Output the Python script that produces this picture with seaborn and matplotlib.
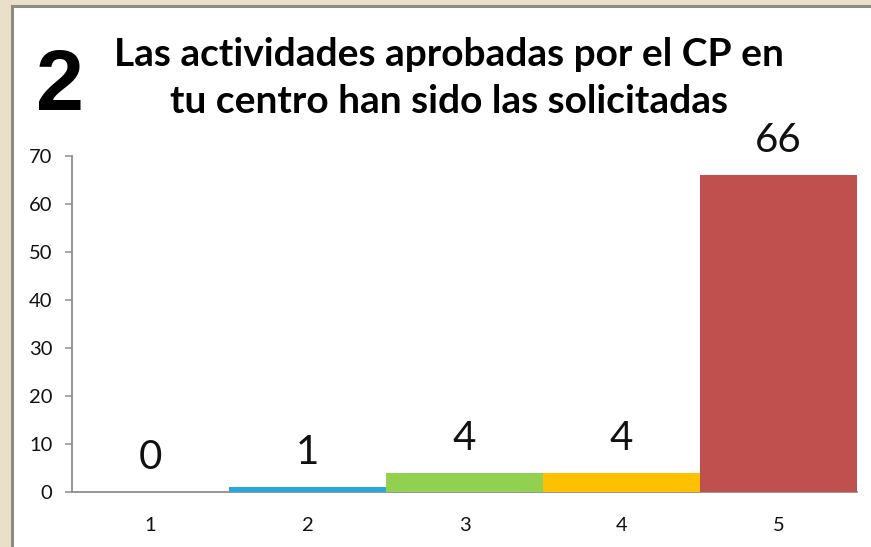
import matplotlib
matplotlib.use("Agg")
import matplotlib.pyplot as plt
from matplotlib.patches import Rectangle
import seaborn as sns
import pandas as pd

# Survey answers for question 2
categories = ["1", "2", "3", "4", "5"]
counts = [0, 1, 4, 4, 66]
bar_colors = ["#4F81BD", "#2AA8DE", "#92D050", "#FFC000", "#C0504D"]
y_ticks = [0, 10, 20, 30, 40, 50, 60, 70]

title_lines = ["Las actividades aprobadas por el CP en", "tu centro han sido las solicitadas"]
number_text = "2"

sns.set_theme(style="white")
plt.rcParams["font.family"] = ["Lato", "DejaVu Sans"]

W, H = 871, 547
fig = plt.figure(figsize=(W / 100, H / 100), dpi=100)
fig.patch.set_facecolor("#E8E0C8")

# white card with a grey frame, kept behind the axes
card = Rectangle((12 / W, -0.05), 1.1, (H - 6) / H + 0.05, transform=fig.transFigure,
                 facecolor="white", edgecolor="#8C8C82", linewidth=2.2, zorder=-10)
fig.patches.append(card)

ax = fig.add_axes([72 / W, (H - 492) / H, (857 - 72) / W, (492 - 156) / H])
ax.set_facecolor("none")

df = pd.DataFrame({"cat": categories, "n": counts})
sns.barplot(data=df, x="cat", y="n", hue="cat", palette=bar_colors, order=categories,
            width=1.0, dodge=False, legend=False, ax=ax, saturation=1, linewidth=0)

ax.set_xlim(-0.5, 4.5)
ax.set_ylim(0, 70)
ax.set_yticks(y_ticks)
ax.set_xlabel("")
ax.set_ylabel("")

for side in ["top", "right"]:
    ax.spines[side].set_visible(False)
for side in ["left", "bottom"]:
    ax.spines[side].set_color("#8E8E8E")
    ax.spines[side].set_linewidth(1.3)
ax.spines["bottom"].set_zorder(0.5)

ax.tick_params(axis="y", which="both", left=True, length=5, width=1.1, color="#8E8E8E",
               labelsize=14.5, pad=9, labelcolor="#111111")
ax.tick_params(axis="x", bottom=False, labelsize=14.5, pad=12, labelcolor="#111111")

for i, v in enumerate(counts):
    ax.annotate(str(v), (i, v), xytext=(0, 25), textcoords="offset points",
                ha="center", va="center", fontsize=29, color="#111111")

for y_px, line in zip([66, 113], title_lines):
    fig.text(449 / W, 1 - y_px / H, line, ha="center", va="baseline",
             fontsize=28, fontweight="bold", color="#000000")
fig.text(60 / W, 1 - 110 / H, number_text, ha="center", va="baseline",
         fontsize=62, fontweight="bold", family=["Liberation Sans", "DejaVu Sans"],
         color="#000000")

fig.savefig("out.png", dpi=100, facecolor=fig.get_facecolor())
